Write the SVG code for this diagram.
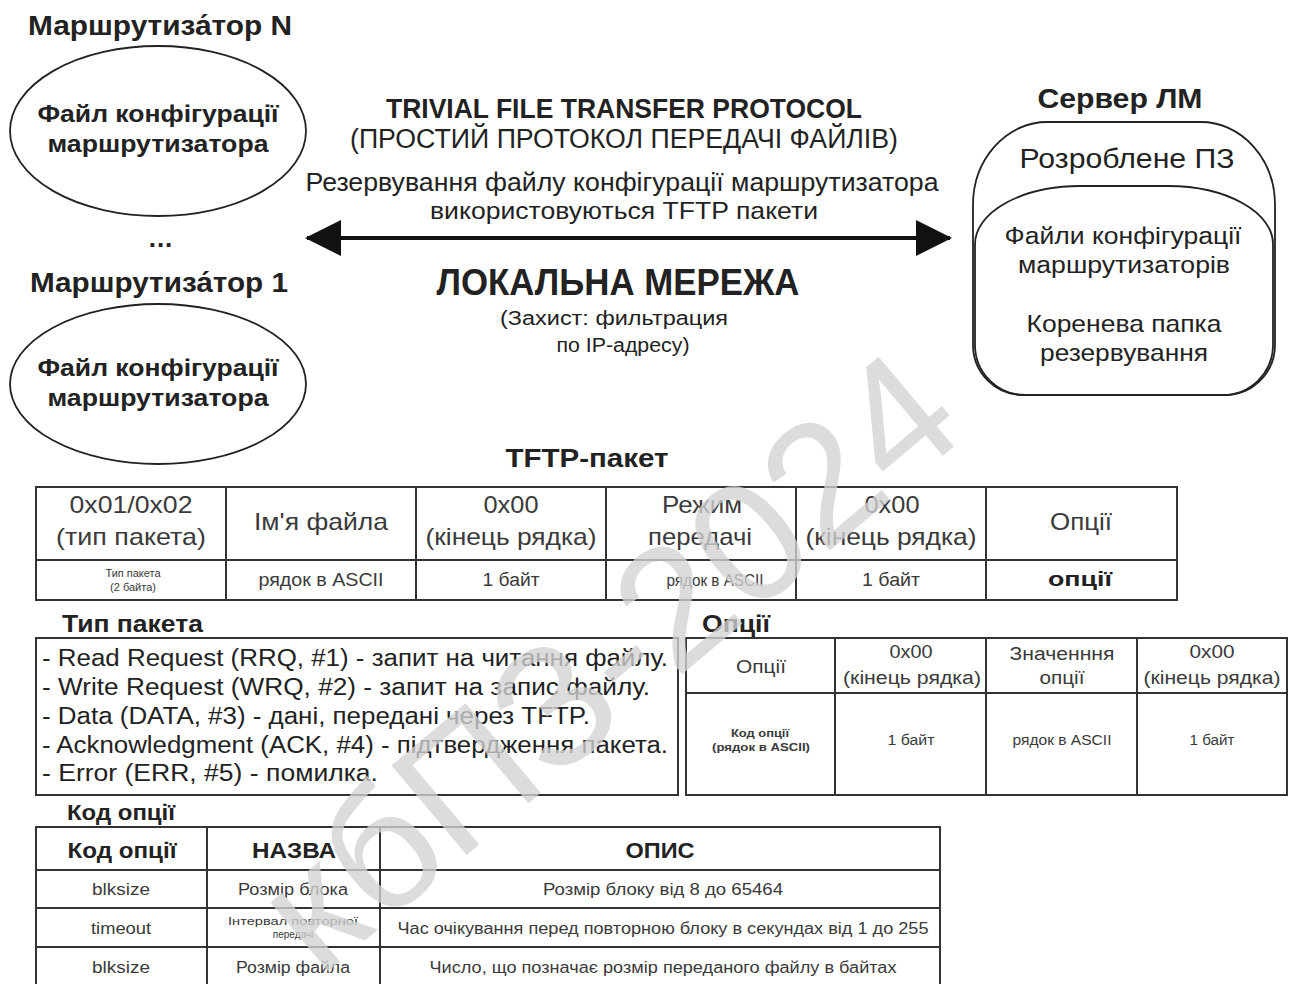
<svg xmlns="http://www.w3.org/2000/svg" width="1293" height="984" viewBox="0 0 1293 984">
  <defs>
    <style>
      text { font-family: "Liberation Sans", Arial, sans-serif; fill: #222; }
      .b { font-weight: bold; }
      .c { text-anchor: middle; }
      .shape { fill: none; stroke: #222; stroke-width: 1.8; }
      .grid { fill: none; stroke: #333; stroke-width: 2; }
      .cell { fill: #3a3a3a; text-anchor: middle; }
      .wm { font-family: "Liberation Sans", Arial, sans-serif; fill: #d2d2d2; fill-opacity: 0.78; text-anchor: middle; }
    </style>
    <marker id="head" viewBox="0 0 36 36" refX="34" refY="18" markerWidth="36" markerHeight="36" markerUnits="userSpaceOnUse" orient="auto-start-reverse">
      <path d="M0,0 L36,18 L0,36 Z" fill="#111"/>
    </marker>
  </defs>

  <rect width="1293" height="984" fill="#fff"/>

  <!-- Router N -->
  <g id="router-n">
    <text class="b" x="28" y="35" font-size="27" textLength="264" lengthAdjust="spacingAndGlyphs">Маршрутиза́тор N</text>
    <ellipse class="shape" cx="158" cy="131" rx="148" ry="85"/>
    <text class="b c" x="158" y="122" font-size="23" textLength="241" lengthAdjust="spacingAndGlyphs">Файл конфігурації</text>
    <text class="b c" x="158" y="152" font-size="23" textLength="221" lengthAdjust="spacingAndGlyphs">маршрутизатора</text>
  </g>

  <text id="ellipsis" class="b c" x="161" y="247" font-size="26" letter-spacing="1">...</text>

  <!-- Router 1 -->
  <g id="router-1">
    <text class="b" x="30" y="292" font-size="27" textLength="258" lengthAdjust="spacingAndGlyphs">Маршрутиза́тор 1</text>
    <ellipse class="shape" cx="158" cy="384" rx="148" ry="80"/>
    <text class="b c" x="158" y="376" font-size="23" textLength="241" lengthAdjust="spacingAndGlyphs">Файл конфігурації</text>
    <text class="b c" x="158" y="406" font-size="23" textLength="221" lengthAdjust="spacingAndGlyphs">маршрутизатора</text>
  </g>

  <!-- Protocol captions -->
  <g id="protocol">
    <text class="b c" x="624" y="118" font-size="28" textLength="476" lengthAdjust="spacingAndGlyphs">TRIVIAL FILE TRANSFER PROTOCOL</text>
    <text class="c" x="624" y="148" font-size="27" textLength="548" lengthAdjust="spacingAndGlyphs">(ПРОСТИЙ ПРОТОКОЛ ПЕРЕДАЧІ ФАЙЛІВ)</text>
    <text class="c" x="622" y="191" font-size="26" textLength="633" lengthAdjust="spacingAndGlyphs">Резервування файлу конфігурації маршрутизатора</text>
    <text class="c" x="624" y="219" font-size="24" textLength="388" lengthAdjust="spacingAndGlyphs">використовуються TFTP пакети</text>
  </g>

  <!-- Connectors -->
  <g id="connectors">
    <line x1="307" y1="238" x2="950" y2="238" stroke="#111" stroke-width="4" marker-start="url(#head)" marker-end="url(#head)"/>
  </g>

  <g id="network">
    <text class="b c" x="618" y="295" font-size="36" textLength="363" lengthAdjust="spacingAndGlyphs">ЛОКАЛЬНА МЕРЕЖА</text>
    <text class="c" x="614" y="325" font-size="20" textLength="228" lengthAdjust="spacingAndGlyphs">(Захист: фильтрация</text>
    <text class="c" x="623" y="352" font-size="20" textLength="133" lengthAdjust="spacingAndGlyphs">по IP-адресу)</text>
  </g>

  <!-- Server -->
  <g id="server">
    <text class="b c" x="1120" y="108" font-size="27" textLength="165" lengthAdjust="spacingAndGlyphs">Сервер ЛМ</text>
    <path class="shape" d="M973,205 A74,83 0 0 1 1047,122 L1201,122 A74,83 0 0 1 1275,205 L1275,345 A50,50 0 0 1 1225,395 L1023,395 A50,50 0 0 1 973,345 Z"/>
    <text class="c" x="1127" y="168" font-size="27" textLength="215" lengthAdjust="spacingAndGlyphs">Розроблене ПЗ</text>
    <g id="server-storage">
      <path class="shape" d="M975,244 A105,58 0 0 1 1080,186 L1168,186 A105,58 0 0 1 1273,244 L1273,345 A50,50 0 0 1 1223,395 L1025,395 A50,50 0 0 1 975,345 Z"/>
      <text class="c" x="1123" y="244" font-size="23" textLength="237" lengthAdjust="spacingAndGlyphs">Файли конфігурації</text>
      <text class="c" x="1124" y="273" font-size="23" textLength="212" lengthAdjust="spacingAndGlyphs">маршрутизаторів</text>
      <text class="c" x="1124" y="332" font-size="24" textLength="195" lengthAdjust="spacingAndGlyphs">Коренева папка</text>
      <text class="c" x="1124" y="361" font-size="24" textLength="168" lengthAdjust="spacingAndGlyphs">резервування</text>
    </g>
  </g>

  <!-- TFTP packet layout -->
  <g id="tftp-packet">
    <text class="b c" x="587" y="467" font-size="26" textLength="163" lengthAdjust="spacingAndGlyphs">TFTP-пакет</text>
    <rect class="grid" x="36" y="487" width="1141" height="113"/>
    <path class="grid" d="M36,560 H1177 M226,487 V600 M416,487 V600 M606,487 V600 M796,487 V600 M986,487 V600"/>
    <g font-size="24">
      <text class="cell" x="131" y="513" textLength="123" lengthAdjust="spacingAndGlyphs">0x01/0x02</text>
      <text class="cell" x="131" y="545" textLength="150" lengthAdjust="spacingAndGlyphs">(тип пакета)</text>
      <text class="cell" x="321" y="530" textLength="134" lengthAdjust="spacingAndGlyphs">Ім'я файла</text>
      <text class="cell" x="511" y="513" textLength="55" lengthAdjust="spacingAndGlyphs">0x00</text>
      <text class="cell" x="511" y="545" textLength="171" lengthAdjust="spacingAndGlyphs">(кінець рядка)</text>
      <text class="cell" x="702" y="513" textLength="80" lengthAdjust="spacingAndGlyphs">Режим</text>
      <text class="cell" x="700" y="545" textLength="104" lengthAdjust="spacingAndGlyphs">передачі</text>
      <text class="cell" x="892" y="513" textLength="55" lengthAdjust="spacingAndGlyphs">0x00</text>
      <text class="cell" x="891" y="545" textLength="171" lengthAdjust="spacingAndGlyphs">(кінець рядка)</text>
      <text class="cell" x="1081" y="530" textLength="62" lengthAdjust="spacingAndGlyphs">Опції</text>
    </g>
    <text class="cell" x="133" y="577" font-size="11">Тип пакета</text>
    <text class="cell" x="133" y="591" font-size="11">(2 байта)</text>
    <text class="cell" x="321" y="586" font-size="18" textLength="125" lengthAdjust="spacingAndGlyphs">рядок в ASCII</text>
    <text class="cell" x="511" y="586" font-size="18" textLength="57" lengthAdjust="spacingAndGlyphs">1 байт</text>
    <text class="cell" x="715" y="586" font-size="16" textLength="97" lengthAdjust="spacingAndGlyphs">рядок в ASCII</text>
    <text class="cell" x="891" y="586" font-size="18" textLength="58" lengthAdjust="spacingAndGlyphs">1 байт</text>
    <text class="b c" x="1080" y="586" font-size="21" textLength="64" lengthAdjust="spacingAndGlyphs">опції</text>
  </g>

  <!-- Packet types -->
  <g id="packet-types">
    <text class="b" x="62" y="632" font-size="23" textLength="141" lengthAdjust="spacingAndGlyphs">Тип пакета</text>
    <rect class="grid" x="36" y="638" width="642" height="157"/>
    <g font-size="23" fill="#2a2a2a">
      <text x="42" y="666" textLength="626" lengthAdjust="spacingAndGlyphs">- Read Request (RRQ, #1) - запит на читання файлу.</text>
      <text x="42" y="695" textLength="608" lengthAdjust="spacingAndGlyphs">- Write Request (WRQ, #2)  - запит на запис файлу.</text>
      <text x="42" y="724" textLength="548" lengthAdjust="spacingAndGlyphs">- Data (DATA, #3) - дані, передані через TFTP.</text>
      <text x="42" y="753" textLength="626" lengthAdjust="spacingAndGlyphs">- Acknowledgment (ACK, #4) - підтвердження пакета.</text>
      <text x="42" y="781" textLength="336" lengthAdjust="spacingAndGlyphs">- Error (ERR, #5)  - помилка.</text>
    </g>
  </g>

  <!-- Options layout -->
  <g id="options">
    <text class="b" x="702" y="632" font-size="24" textLength="68" lengthAdjust="spacingAndGlyphs">Опції</text>
    <rect class="grid" x="686" y="638" width="601" height="157"/>
    <path class="grid" d="M686,693 H1287 M835,638 V795 M986,638 V795 M1137,638 V795"/>
    <g font-size="18">
      <text class="cell" x="761" y="673" textLength="50" lengthAdjust="spacingAndGlyphs">Опції</text>
      <text class="cell" x="911" y="658" textLength="43" lengthAdjust="spacingAndGlyphs">0x00</text>
      <text class="cell" x="912" y="684" textLength="138" lengthAdjust="spacingAndGlyphs">(кінець рядка)</text>
      <text class="cell" x="1062" y="660" textLength="105" lengthAdjust="spacingAndGlyphs">Значенння</text>
      <text class="cell" x="1062" y="684" textLength="45" lengthAdjust="spacingAndGlyphs">опції</text>
      <text class="cell" x="1212" y="658" textLength="45" lengthAdjust="spacingAndGlyphs">0x00</text>
      <text class="cell" x="1212" y="684" textLength="137" lengthAdjust="spacingAndGlyphs">(кінець рядка)</text>
    </g>
    <text class="cell b" x="760" y="737" font-size="10" textLength="58" lengthAdjust="spacingAndGlyphs">Код опції</text>
    <text class="cell b" x="761" y="751" font-size="10" textLength="98" lengthAdjust="spacingAndGlyphs">(рядок в ASCII)</text>
    <text class="cell" x="911" y="745" font-size="14" textLength="47" lengthAdjust="spacingAndGlyphs">1 байт</text>
    <text class="cell" x="1062" y="745" font-size="14" textLength="99" lengthAdjust="spacingAndGlyphs">рядок в ASCII</text>
    <text class="cell" x="1212" y="745" font-size="14" textLength="45" lengthAdjust="spacingAndGlyphs">1 байт</text>
  </g>

  <!-- Option codes -->
  <g id="option-codes">
    <text class="b" x="67" y="820" font-size="22" textLength="108" lengthAdjust="spacingAndGlyphs">Код опції</text>
    <rect class="grid" x="36" y="827" width="904" height="170"/>
    <path class="grid" d="M36,870 H940 M36,908 H940 M36,947 H940 M207,827 V984 M380,827 V984"/>
    <text class="b c" x="122" y="858" font-size="22" textLength="109" lengthAdjust="spacingAndGlyphs">Код опції</text>
    <text class="b c" x="294" y="858" font-size="22" textLength="84" lengthAdjust="spacingAndGlyphs">НАЗВА</text>
    <text class="b c" x="660" y="858" font-size="22" textLength="69" lengthAdjust="spacingAndGlyphs">ОПИС</text>
    <g font-size="16">
      <text class="cell" x="121" y="895" textLength="58" lengthAdjust="spacingAndGlyphs">blksize</text>
      <text class="cell" x="293" y="895" textLength="110" lengthAdjust="spacingAndGlyphs">Розмір блока</text>
      <text class="cell" x="663" y="895" textLength="240" lengthAdjust="spacingAndGlyphs">Розмір блоку  від 8 до 65464</text>
      <text class="cell" x="121" y="934" textLength="60" lengthAdjust="spacingAndGlyphs">timeout</text>
      <text class="cell" x="663" y="934" textLength="531" lengthAdjust="spacingAndGlyphs">Час очікування перед повторною блоку в секундах від 1 до 255</text>
      <text class="cell" x="121" y="973" textLength="58" lengthAdjust="spacingAndGlyphs">blksize</text>
      <text class="cell" x="293" y="973" textLength="114" lengthAdjust="spacingAndGlyphs">Розмір файла</text>
      <text class="cell" x="663" y="973" textLength="467" lengthAdjust="spacingAndGlyphs">Число, що позначає розмір переданого файлу в байтах</text>
    </g>
    <text class="cell" x="293" y="925" font-size="10" textLength="130" lengthAdjust="spacingAndGlyphs">Інтервал повторної</text>
    <text class="cell" x="293" y="938" font-size="10">передачі</text>
  </g>

  <!-- Watermark -->
  <g transform="translate(605,658) rotate(-40)">
    <text class="wm" x="0" y="62" font-size="170" textLength="850" lengthAdjust="spacingAndGlyphs">кбПЗ-2024</text>
  </g>
</svg>
